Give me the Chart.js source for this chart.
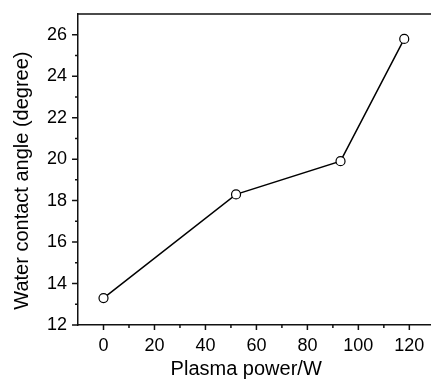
<!DOCTYPE html>
<html>
<head>
<meta charset="utf-8">
<script src="https://cdn.jsdelivr.net/npm/chart.js@4"></script>
<style>
  html, body { margin: 0; padding: 0; background: #fff; }
  #wrap { width: 431px; height: 379px; }
</style>
</head>
<body>
<div id="wrap"><canvas id="angleChart"></canvas></div>
<script>
// data
const power = [0, 52, 93, 118];
const angle = [13.3, 18.3, 19.9, 25.8];
const xTicks = [0, 20, 40, 60, 80, 100, 120];
const xMinor = [10, 30, 50, 70, 90, 110];
const yTicks = [12, 14, 16, 18, 20, 22, 24, 26];
const yMinor = [13, 15, 17, 19, 21, 23, 25];

const FONT = "'Liberation Sans', Arial, sans-serif";

// outward major/minor ticks + top frame line
const frame = {
  id: 'frame',
  afterDraw(chart) {
    const c = chart.ctx, a = chart.chartArea;
    const xs = chart.scales.x, ys = chart.scales.y;
    c.save();
    c.strokeStyle = '#111';
    c.lineWidth = 1.5;
    c.beginPath();
    c.moveTo(a.left, a.top);
    c.lineTo(a.right, a.top);
    xTicks.forEach(v => { const p = xs.getPixelForValue(v); c.moveTo(p, a.bottom); c.lineTo(p, a.bottom + 5); });
    xMinor.forEach(v => { const p = xs.getPixelForValue(v); c.moveTo(p, a.bottom); c.lineTo(p, a.bottom + 3); });
    yTicks.forEach(v => { const p = ys.getPixelForValue(v); c.moveTo(a.left, p); c.lineTo(a.left - 6, p); });
    yMinor.forEach(v => { const p = ys.getPixelForValue(v); c.moveTo(a.left, p); c.lineTo(a.left - 3, p); });
    c.stroke();
    c.restore();
  }
};

// labels never sit at the ends, so drop the extra edge padding
const noEdgePad = s => { s.paddingTop = 0; s.paddingBottom = 0; s.paddingLeft = 0; s.paddingRight = 0; };

new Chart(document.getElementById('angleChart'), {
  type: 'line',
  data: {
    datasets: [{
      data: power.map((p, i) => ({ x: p, y: angle[i] })),
      borderColor: '#000',
      borderWidth: 1.5,
      pointRadius: 4.5,
      pointBackgroundColor: '#fff',
      pointBorderColor: '#000',
      pointBorderWidth: 1.2,
      tension: 0
    }]
  },
  options: {
    responsive: true,
    maintainAspectRatio: false,
    animation: false,
    events: [],
    layout: { autoPadding: false, padding: { left: 10, right: 0, top: 14, bottom: 0 } },
    plugins: { legend: { display: false }, tooltip: { enabled: false } },
    scales: {
      x: {
        type: 'linear',
        min: -10,
        max: 128.5,
        afterBuildTicks: s => { s.ticks = xTicks.map(v => ({ value: v })); },
        afterFit: noEdgePad,
        grid: { display: true, drawOnChartArea: false, drawTicks: false },
        border: { display: true, color: '#111', width: 1.5 },
        ticks: { color: '#000', font: { family: FONT, size: 18, lineHeight: 1 }, padding: 12, maxRotation: 0, autoSkip: false },
        title: {
          display: true,
          text: 'Plasma power/W   ',
          color: '#000',
          font: { family: FONT, size: 20, lineHeight: 1 },
          padding: { top: -8, bottom: 0 }
        }
      },
      y: {
        min: 12,
        max: 27,
        afterBuildTicks: s => { s.ticks = yTicks.map(v => ({ value: v })); },
        afterFit: noEdgePad,
        grid: { display: true, drawOnChartArea: false, drawTicks: false },
        border: { display: true, color: '#111', width: 1.5 },
        ticks: { color: '#000', font: { family: FONT, size: 18 }, padding: 11, autoSkip: false },
        title: {
          display: true,
          text: 'Water contact angle (degree)    ',
          color: '#000',
          font: { family: FONT, size: 20 },
          padding: { top: 0, bottom: 2 }
        }
      }
    }
  },
  plugins: [frame]
});
</script>
</body>
</html>
